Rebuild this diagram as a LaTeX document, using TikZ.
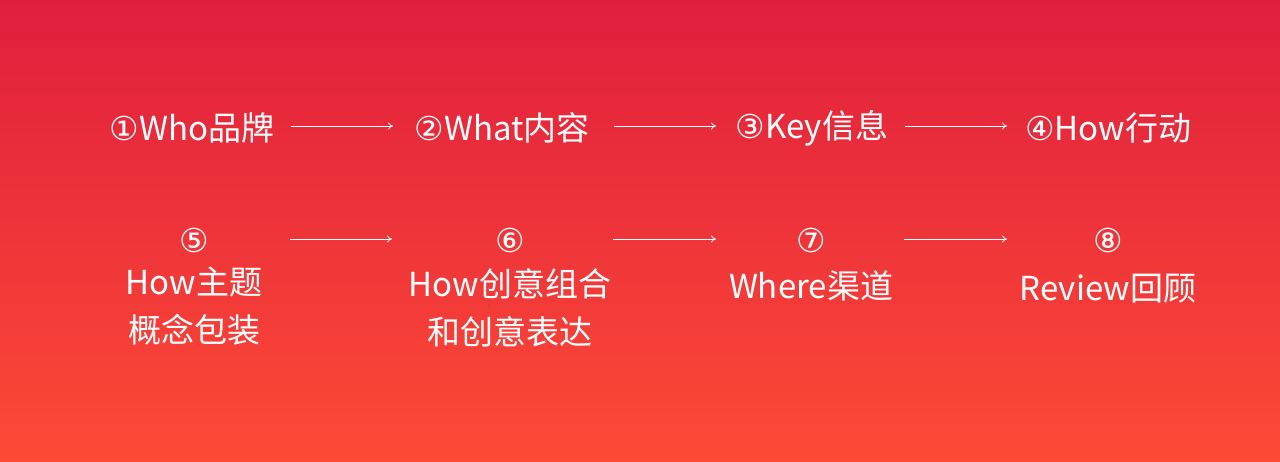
\documentclass[tikz,border=0pt]{standalone}
\usepackage{fontspec}
\setmainfont{Noto Sans CJK SC}
\newfontfamily\symf{DejaVu Sans}
\usetikzlibrary{arrows.meta}
\begin{document}
\begin{tikzpicture}[x=1pt,y=-1pt,
  lbl/.style={text=white,font=\fontsize{33}{48}\selectfont,inner sep=0pt,align=center},
  arr/.style={draw=white,line width=0.8pt,-{To[length=5pt,width=7pt]}}]
\definecolor{topc}{HTML}{E01F3D}
\definecolor{botc}{HTML}{FC4A36}
\shade[top color=topc,bottom color=botc] (0,0) rectangle (1280,461);
\useasboundingbox (0,0) rectangle (1280,461);
\node[lbl] (a) at (192,128) {{\symf ①}Who品牌};
\node[lbl] (b) at (502,128) {{\symf ②}What内容};
\node[lbl] (c) at (812,128) {{\symf ③}Key信息};
\node[lbl] (d) at (1108,128) {{\symf ④}How行动};
\draw[arr] (291,126) -- (393,126);
\draw[arr] (614,126) -- (716,126);
\draw[arr] (905,126) -- (1007,126);
\node[lbl] (e) at (194,240) {\symf ⑤};
\node[lbl] (e2) at (194,306) {How主题\\概念包装};
\node[lbl] (f) at (510,240) {\symf ⑥};
\node[lbl] (f2) at (510,308) {How创意组合\\和创意表达};
\node[lbl] (g) at (811,240) {\symf ⑦};
\node[lbl] (g2) at (811,286) {Where渠道};
\node[lbl] (h) at (1108,240) {\symf ⑧};
\node[lbl] (h2) at (1108,289) {Review回顾};
\draw[arr] (290,239) -- (392,239);
\draw[arr] (613,239) -- (716,239);
\draw[arr] (904,239) -- (1007,239);
\end{tikzpicture}
\end{document}
